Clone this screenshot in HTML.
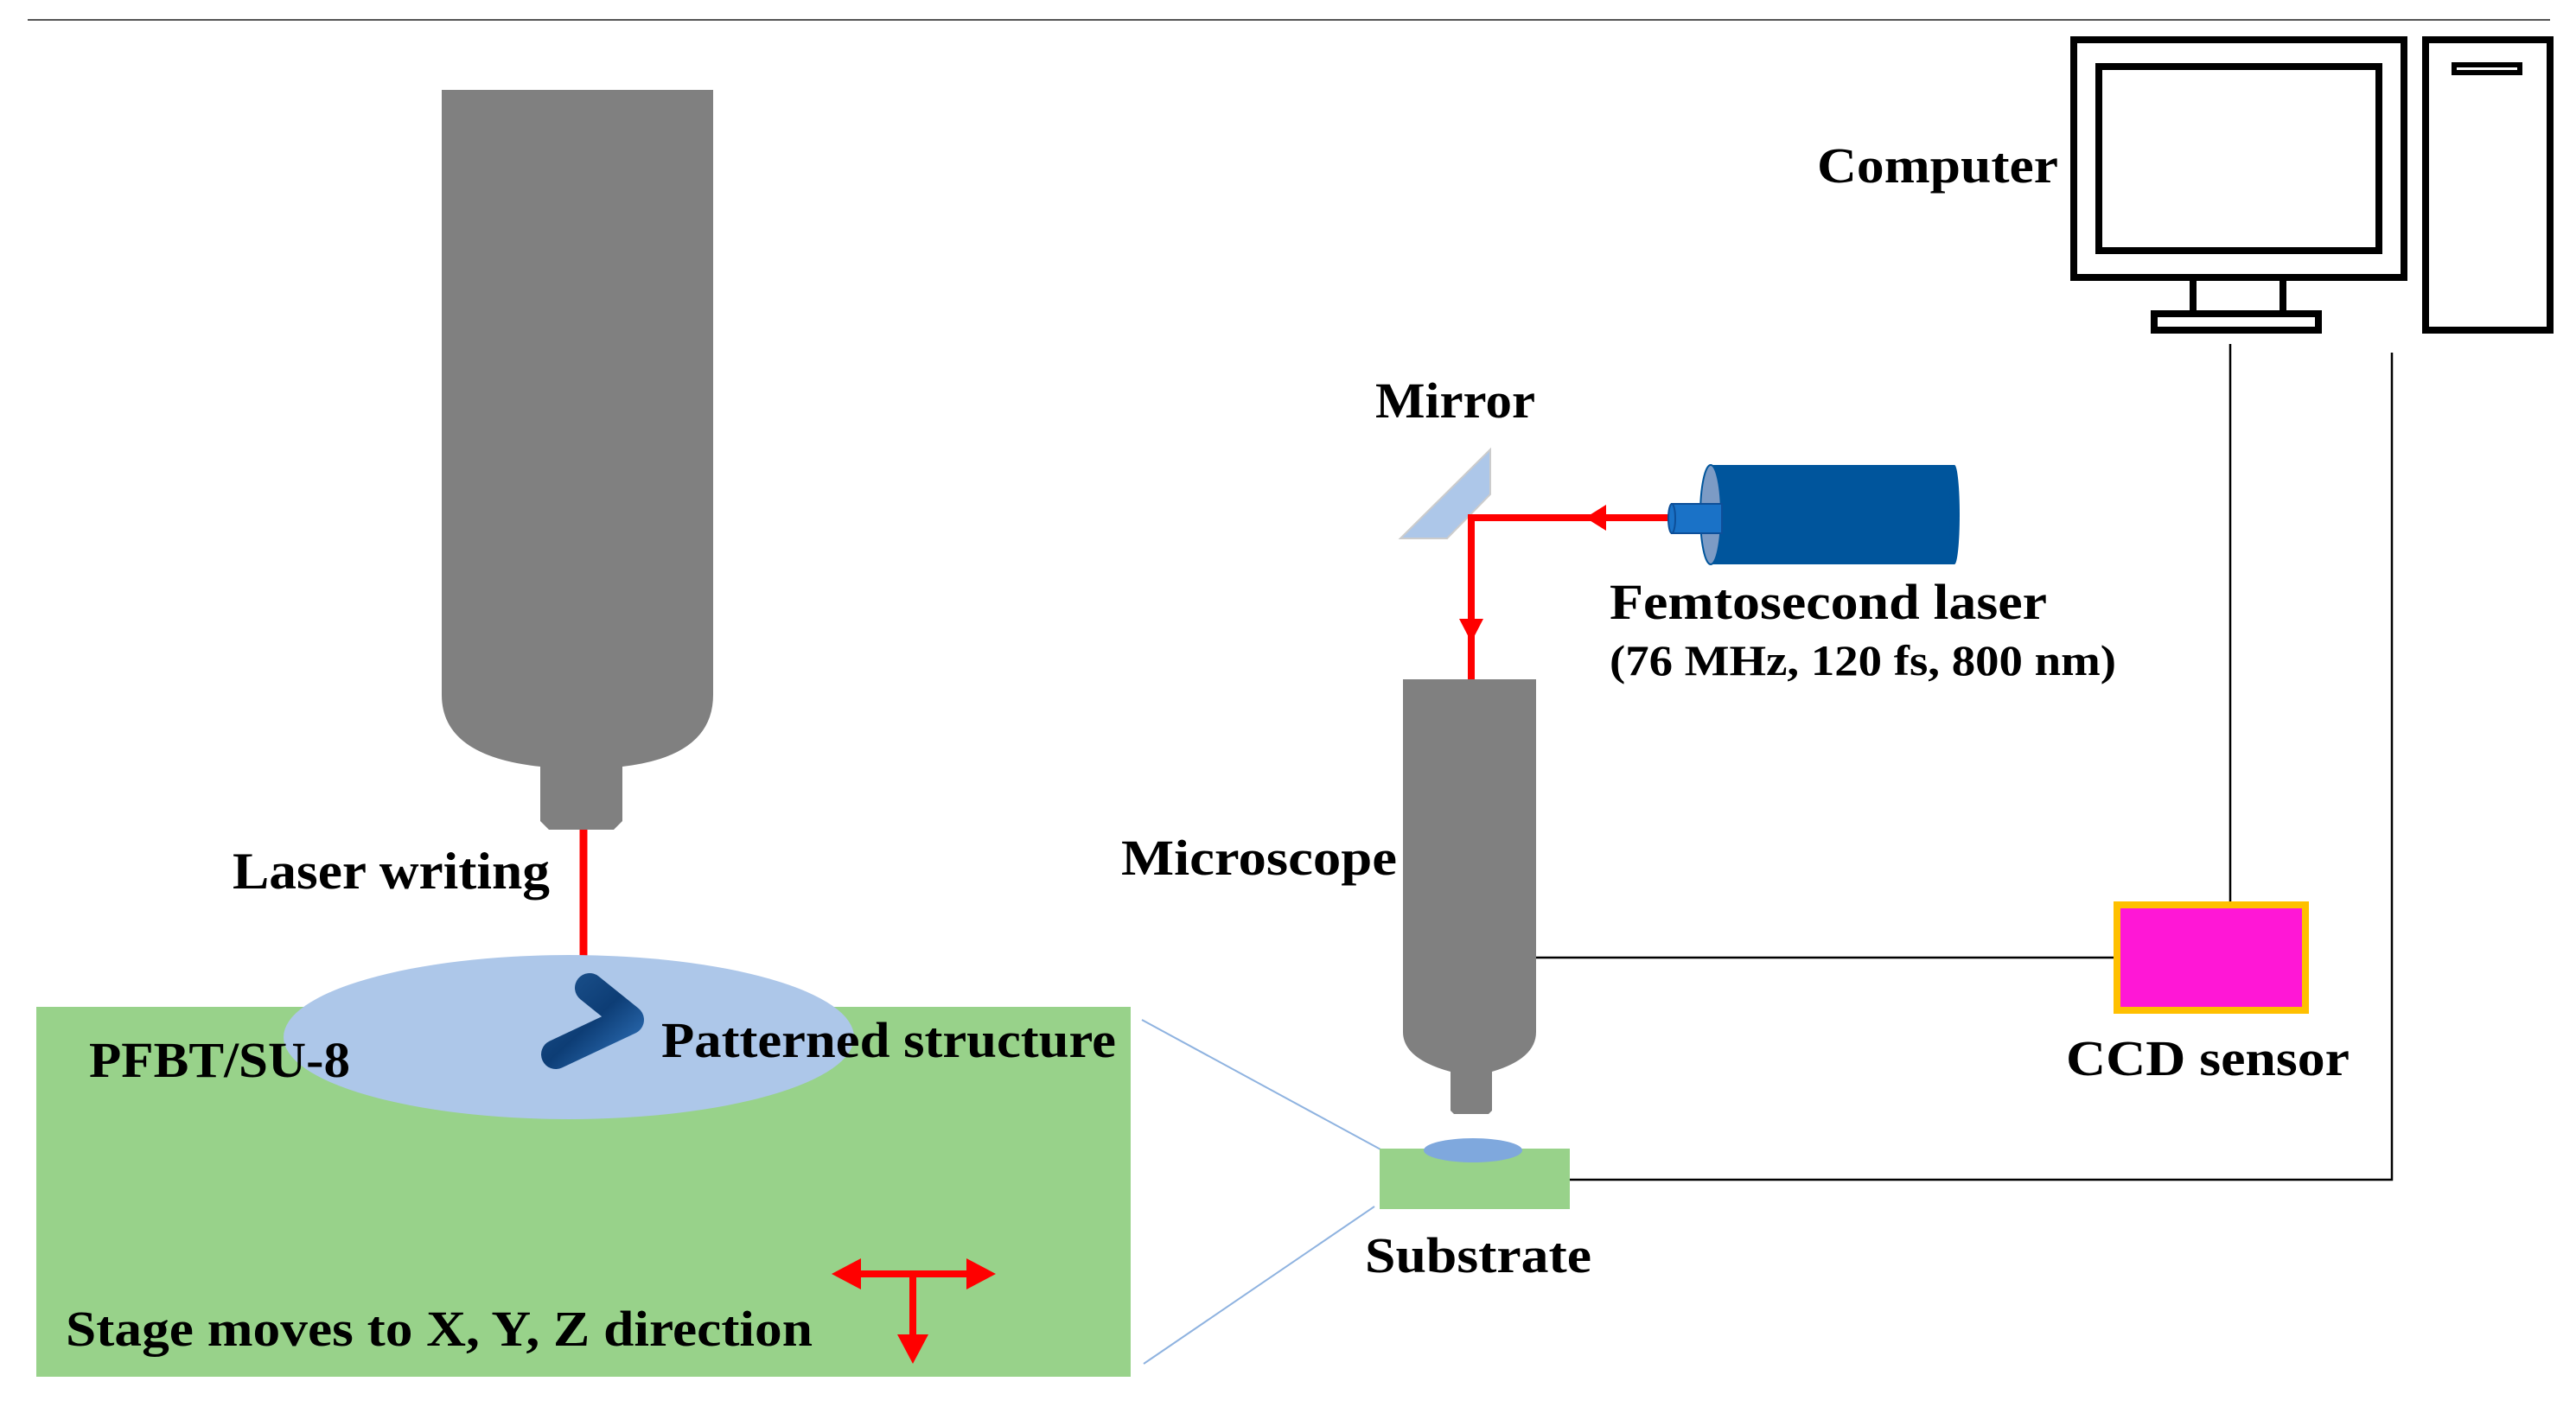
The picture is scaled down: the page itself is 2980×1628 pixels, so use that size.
<!DOCTYPE html>
<html><head><meta charset="utf-8"><style>
html,body{margin:0;padding:0;background:#fff}
svg{display:block}
text{font-family:"Liberation Serif",serif;font-weight:bold;fill:#000}
</style></head><body>
<svg width="2980" height="1628" viewBox="0 0 2980 1628" xmlns="http://www.w3.org/2000/svg">
<defs>
<linearGradient id="bg" x1="0" y1="0" x2="1" y2="1">
<stop offset="0" stop-color="#1a4f8a"/><stop offset="0.5" stop-color="#0d3d75"/><stop offset="1" stop-color="#2a6ab0"/>
</linearGradient>
</defs>
<line x1="32" y1="23" x2="2950" y2="23" stroke="#555" stroke-width="2"/>

<path d="M511 104 H825 V804 Q825 875 720 887 V950 L710 960 H635 L625 950 V887 Q511 875 511 804 Z" fill="#808080"/>
<line x1="675" y1="960" x2="675" y2="1123" stroke="#ff0000" stroke-width="9"/>

<rect x="42" y="1165" width="1266" height="428" fill="#98d28a"/>
<ellipse cx="658" cy="1200" rx="330" ry="95" fill="#adc7e9"/>
<path d="M682 1143 L728 1180 L643 1220" fill="none" stroke="url(#bg)" stroke-width="34" stroke-linecap="round" stroke-linejoin="round"/>

<text x="269" y="1028" font-size="60" textLength="367" lengthAdjust="spacingAndGlyphs">Laser writing</text>
<text x="103" y="1246" font-size="58" textLength="302" lengthAdjust="spacingAndGlyphs">PFBT/SU-8</text>
<text x="765" y="1223" font-size="58" textLength="526" lengthAdjust="spacingAndGlyphs">Patterned structure</text>
<text x="76" y="1557" font-size="58" textLength="864" lengthAdjust="spacingAndGlyphs">Stage moves to X, Y, Z direction</text>

<line x1="990" y1="1474" x2="1122" y2="1474" stroke="#ff0000" stroke-width="8"/>
<polygon points="962,1474 996,1456 996,1492" fill="#ff0000"/>
<polygon points="1152,1474 1118,1456 1118,1492" fill="#ff0000"/>
<line x1="1056" y1="1474" x2="1056" y2="1548" stroke="#ff0000" stroke-width="8"/>
<polygon points="1056,1578 1038,1544 1074,1544" fill="#ff0000"/>

<line x1="1321" y1="1180" x2="1599" y2="1331" stroke="#8fb3e0" stroke-width="2"/>
<line x1="1323" y1="1578" x2="1590" y2="1396" stroke="#8fb3e0" stroke-width="2"/>

<path d="M1623 786 H1777 V1194 Q1777 1225 1726 1240 V1285 L1722 1289 H1682 L1678 1285 V1240 Q1623 1225 1623 1194 Z" fill="#808080"/>
<rect x="1596" y="1329" width="220" height="70" fill="#98d28a"/>
<ellipse cx="1704" cy="1331" rx="57" ry="14" fill="#7fa8dd"/>

<polygon points="1620,623 1724,520 1724,572 1674,623" fill="#adc7e9" stroke="#ccc" stroke-width="2"/>

<polyline points="1930,599 1702,599 1702,786" fill="none" stroke="#ff0000" stroke-width="8"/>
<polygon points="1834,599 1858,584 1858,614" fill="#ff0000"/>
<polygon points="1702,743 1688,716 1716,716" fill="#ff0000"/>

<rect x="1979" y="538" width="282" height="115" fill="#00559c"/>
<ellipse cx="2261" cy="595.5" rx="6" ry="57.5" fill="#00559c"/>
<ellipse cx="1979" cy="595.5" rx="12" ry="57.5" fill="#7c9bc5" stroke="#00559c" stroke-width="2"/>
<rect x="1934" y="583" width="58" height="34" fill="#1a72c7" stroke="#0d4f99" stroke-width="2"/>
<ellipse cx="1934" cy="600" rx="4" ry="17" fill="#1a72c7" stroke="#0d4f99" stroke-width="2"/>

<text x="1591" y="483" font-size="58" textLength="185" lengthAdjust="spacingAndGlyphs">Mirror</text>
<text x="1862" y="716" font-size="58" textLength="506" lengthAdjust="spacingAndGlyphs">Femtosecond laser</text>
<text x="1862" y="781" font-size="50" textLength="586" lengthAdjust="spacingAndGlyphs">(76 MHz, 120 fs, 800 nm)</text>
<text x="2102" y="211" font-size="58" textLength="279" lengthAdjust="spacingAndGlyphs">Computer</text>
<text x="1297" y="1012" font-size="58" textLength="319" lengthAdjust="spacingAndGlyphs">Microscope</text>
<text x="1579" y="1472" font-size="58" textLength="262" lengthAdjust="spacingAndGlyphs">Substrate</text>
<text x="2390" y="1244" font-size="58" textLength="328" lengthAdjust="spacingAndGlyphs">CCD sensor</text>

<g fill="none" stroke="#000" stroke-width="8">
<rect x="2399" y="46" width="382" height="275"/>
<rect x="2428" y="77" width="324" height="213"/>
<polyline points="2537,321 2537,363 2641,363 2641,321"/>
<rect x="2492" y="363" width="190" height="19"/>
<rect x="2806" y="46" width="144" height="336"/>
<rect x="2839" y="75" width="76" height="9" stroke-width="6"/>
</g>

<g stroke="#000" stroke-width="2.5" fill="none">
<line x1="2580" y1="398" x2="2580" y2="1043"/>
<polyline points="2767,408 2767,1365 1816,1365"/>
<line x1="1777" y1="1108" x2="2445" y2="1108"/>
</g>

<rect x="2449" y="1047" width="218" height="122" fill="#ff17d6" stroke="#ffc000" stroke-width="8"/>
</svg>
</body></html>
